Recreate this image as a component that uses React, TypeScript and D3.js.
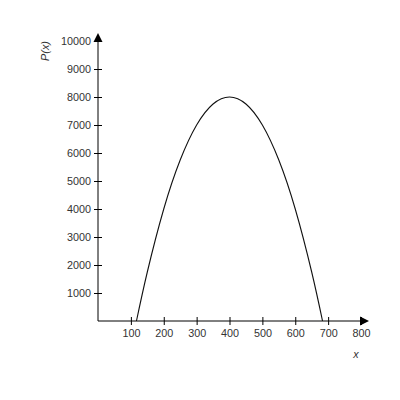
import {useEffect, useRef} from "react";
import * as d3 from "d3";

// points
const xValues = [117, 150, 200, 250, 300, 350, 400, 450, 500, 550, 600, 650, 683];
const pValues = [0, 1750, 4000, 5750, 7000, 7750, 8000, 7750, 7000, 5750, 4000, 1750, 0];

const xTicks = [100, 200, 300, 400, 500, 600, 700, 800];
const yTicks = [1000, 2000, 3000, 4000, 5000, 6000, 7000, 8000, 9000, 10000];

export default function App() {
    const chartRef = useRef<SVGSVGElement>(null);

    useEffect(() => {
        if (!chartRef.current) return;
        const width = 400;
        const height = 400;

        const svg = d3.select(chartRef.current)
            .attr("viewBox", [0, 0, width, height]);
        svg.selectAll("*").remove();

        const xScale = d3.scaleLinear().domain([0, 800]).range([98, 361]);
        const yScale = d3.scaleLinear().domain([0, 10000]).range([321, 41]);

        const font = "'Liberation Sans', Arial, sans-serif";
        const fontSize = 10.8;

        // x axis
        const gx = svg.append("g")
            .attr("transform", `translate(0,${yScale(0)})`)
            .call(d3.axisBottom(xScale).tickValues(xTicks).tickSize(4).tickPadding(4).tickFormat(d3.format("d")));
        gx.select(".domain").remove();
        gx.selectAll(".tick line").attr("y1", -4).attr("y2", 4).attr("stroke", "#000");
        gx.selectAll(".tick text").attr("font-family", font).attr("font-size", fontSize).attr("fill", "#333");

        // y axis
        const gy = svg.append("g")
            .attr("transform", `translate(${xScale(0)},0)`)
            .call(d3.axisLeft(yScale).tickValues(yTicks).tickSize(4).tickPadding(3).tickFormat(d3.format("d")));
        gy.select(".domain").remove();
        gy.selectAll(".tick line").attr("x1", -4).attr("x2", 4).attr("stroke", "#000");
        gy.selectAll(".tick text").attr("font-family", font).attr("font-size", fontSize).attr("fill", "#333");

        // axis lines with arrows
        svg.append("line")
            .attr("x1", xScale(0)).attr("x2", 362)
            .attr("y1", yScale(0)).attr("y2", yScale(0))
            .attr("stroke", "#000");
        svg.append("path")
            .attr("d", `M360,${yScale(0) - 4.5}L369,${yScale(0)}L360,${yScale(0) + 4.5}Z`)
            .attr("fill", "#000");
        svg.append("line")
            .attr("x1", xScale(0)).attr("x2", xScale(0))
            .attr("y1", yScale(0)).attr("y2", 40)
            .attr("stroke", "#000");
        svg.append("path")
            .attr("d", `M${xScale(0) - 4.5},42L${xScale(0)},33L${xScale(0) + 4.5},42Z`)
            .attr("fill", "#000");

        // curve
        const data = xValues.map((x, i) => ({x, p: pValues[i]}));
        const line = d3.line<{ x: number, p: number }>()
            .x(d => xScale(d.x))
            .y(d => yScale(d.p))
            .curve(d3.curveNatural);
        svg.append("path")
            .datum(data)
            .attr("d", line)
            .attr("fill", "none")
            .attr("stroke", "#111")
            .attr("stroke-width", 1.1);

        // labels
        svg.append("text")
            .attr("transform", "translate(49,51) rotate(-90)")
            .attr("text-anchor", "middle")
            .attr("font-family", font)
            .attr("font-size", fontSize)
            .attr("font-style", "italic")
            .attr("fill", "#333")
            .text("P(x)");
        svg.append("text")
            .attr("x", 356)
            .attr("y", 358)
            .attr("text-anchor", "middle")
            .attr("font-family", font)
            .attr("font-size", fontSize)
            .attr("font-style", "italic")
            .attr("fill", "#333")
            .text("x");
    }, []);

    return (
        <svg ref={chartRef} width={400} height={400}
             style={{position: "absolute", left: 0, top: 0, background: "#fff"}}/>
    );
}
